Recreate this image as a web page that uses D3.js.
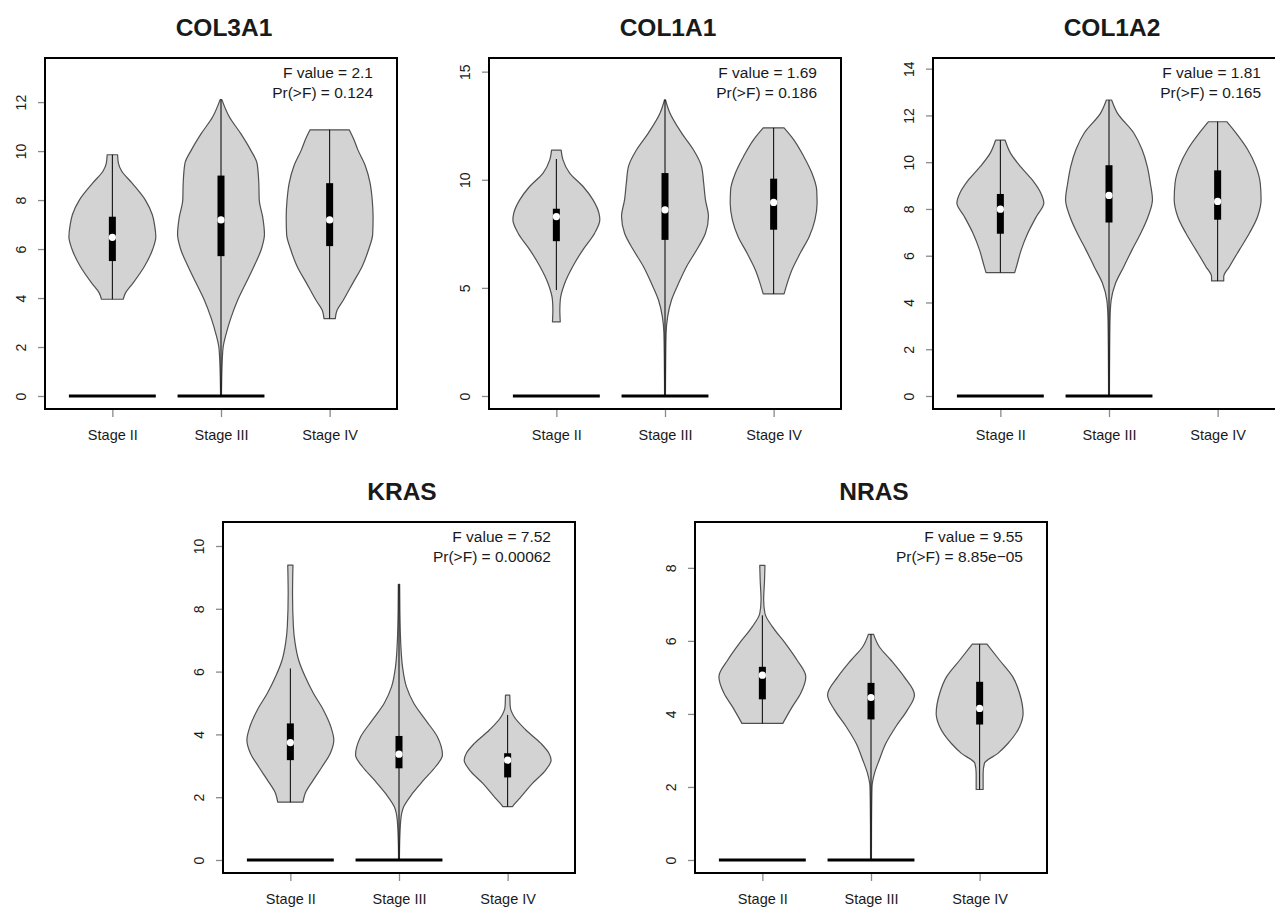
<!DOCTYPE html>
<html>
<head>
<meta charset="utf-8">
<script src="https://cdn.jsdelivr.net/npm/d3@7"></script>
<style>
	body { margin: 0; background: #fff; }
	text { font-family: "Liberation Sans", Arial, Helvetica, sans-serif; fill: #1a1a1a; }
</style>
</head>
<body>
<script>
//the data
let stages = ["Stage II", "Stage III", "Stage IV"];
let genes = ["COL3A1", "COL1A1", "COL1A2", "KRAS", "NRAS"];
let fValues = ["2.1", "1.69", "1.81", "7.52", "9.55"];
let pValues = ["0.124", "0.186", "0.165", "0.00062", "8.85e\u221205"];
let yMax = [13.27, 15.03, 13.9, 10.35, 8.9]; //upper ylim before the 4% padding
let yTicks = [
	[0, 2, 4, 6, 8, 10, 12],
	[0, 5, 10, 15],
	[0, 2, 4, 6, 8, 10, 12, 14],
	[0, 2, 4, 6, 8, 10],
	[0, 2, 4, 6, 8]
];
let zeroStages = ["Stage II", "Stage III"]; //groups that also have the flat bar at 0

//violin outlines: [value, relative half width]
let col3a1Shape = [
	[[3.95, 0.25], [4.2, 0.3], [4.6, 0.47], [5.3, 0.74], [6.0, 0.93], [6.5, 1.0], [7.0, 0.97], [7.4, 0.92], [8.0, 0.76], [8.7, 0.45], [9.2, 0.21], [9.5, 0.14], [9.85, 0.12]],
	[[0, 0.01], [1.0, 0.02], [1.5, 0.03], [2.0, 0.05], [2.55, 0.12], [3.2, 0.23], [3.9, 0.38], [4.6, 0.57], [5.3, 0.76], [6.0, 0.93], [6.6, 1.0], [7.3, 0.96], [8.0, 0.88], [8.7, 0.87], [9.5, 0.83], [10.05, 0.68], [10.7, 0.46], [11.4, 0.19], [12.1, 0.02]],
	[[3.16, 0.13], [3.5, 0.17], [3.9, 0.31], [4.6, 0.53], [5.3, 0.75], [6.0, 0.9], [6.6, 0.99], [7.3, 1.0], [8.0, 0.98], [8.7, 0.93], [9.4, 0.82], [10.05, 0.65], [10.5, 0.55], [10.87, 0.45]]
];
let col1a1Shape = [
	[[3.43, 0.09], [3.97, 0.08], [4.44, 0.09], [5.2, 0.19], [6.0, 0.38], [6.76, 0.61], [7.53, 0.88], [8.15, 1.0], [8.46, 0.98], [9.08, 0.84], [9.7, 0.61], [10.3, 0.31], [10.93, 0.15], [11.37, 0.11]],
	[[0, 0.01], [1.5, 0.015], [2.9, 0.025], [3.66, 0.06], [4.44, 0.15], [5.2, 0.31], [6.0, 0.5], [6.76, 0.73], [7.53, 0.93], [8.3, 1.0], [9.08, 0.93], [9.85, 0.89], [10.62, 0.84], [11.4, 0.65], [12.17, 0.38], [13.1, 0.11], [13.7, 0.01]],
	[[4.72, 0.24], [5.2, 0.31], [5.83, 0.42], [6.6, 0.61], [7.38, 0.82], [8.15, 0.95], [8.92, 1.0], [9.54, 0.99], [10.31, 0.88], [11.09, 0.69], [11.86, 0.46], [12.4, 0.24]]
];
let col1a2Shape = [
	[[5.28, 0.33], [5.53, 0.37], [6.25, 0.48], [6.96, 0.63], [7.68, 0.83], [8.25, 1.0], [8.68, 0.93], [9.25, 0.73], [9.82, 0.46], [10.4, 0.23], [10.94, 0.11]],
	[[0, 0.01], [2.0, 0.015], [3.39, 0.025], [4.1, 0.05], [4.82, 0.15], [5.53, 0.34], [6.25, 0.53], [6.96, 0.73], [7.68, 0.9], [8.39, 1.0], [9.11, 0.95], [9.82, 0.88], [10.54, 0.76], [11.25, 0.57], [12.11, 0.19], [12.66, 0.06]],
	[[4.92, 0.14], [5.1, 0.14], [5.53, 0.27], [6.25, 0.5], [6.96, 0.73], [7.68, 0.92], [8.39, 1.0], [9.11, 0.98], [9.82, 0.88], [10.54, 0.69], [11.25, 0.42], [11.73, 0.21]]
];
let krasShape = [
	[[1.84, 0.29], [2.12, 0.34], [2.55, 0.53], [2.97, 0.73], [3.4, 0.92], [3.82, 1.0], [4.25, 0.93], [4.78, 0.76], [5.31, 0.53], [5.84, 0.34], [6.37, 0.19], [6.9, 0.11], [7.43, 0.07], [8.49, 0.05], [9.39, 0.06]],
	[[0, 0.01], [0.53, 0.015], [1.27, 0.04], [1.7, 0.11], [2.12, 0.31], [2.55, 0.57], [2.97, 0.84], [3.34, 1.0], [3.93, 0.88], [4.46, 0.61], [4.99, 0.34], [5.52, 0.17], [6.16, 0.08], [6.9, 0.04], [7.96, 0.02], [8.78, 0.015]],
	[[1.7, 0.11], [1.8, 0.17], [2.02, 0.31], [2.44, 0.57], [2.87, 0.88], [3.18, 1.0], [3.4, 0.95], [3.72, 0.76], [4.14, 0.42], [4.56, 0.15], [4.88, 0.06], [5.25, 0.05]]
];
let nrasShape = [
	[[3.74, 0.47], [4.2, 0.69], [4.56, 0.88], [5.02, 1.0], [5.47, 0.8], [5.93, 0.53], [6.39, 0.23], [6.75, 0.06], [7.12, 0.03], [7.66, 0.05], [8.07, 0.06]],
	[[0, 0.01], [0.91, 0.012], [2.0, 0.023], [2.37, 0.08], [2.74, 0.19], [3.19, 0.34], [3.65, 0.57], [4.11, 0.84], [4.52, 1.0], [5.02, 0.76], [5.47, 0.46], [5.84, 0.19], [6.18, 0.06]],
	[[1.93, 0.08], [2.37, 0.08], [2.65, 0.11], [2.92, 0.42], [3.19, 0.65], [3.65, 0.92], [4.01, 1.0], [4.56, 0.92], [5.02, 0.76], [5.47, 0.46], [5.91, 0.17]]
];
let shapes = [col3a1Shape, col1a1Shape, col1a2Shape, krasShape, nrasShape];

//box stats per stage: [q1, median, q3, whisker low, whisker high]
let boxStats = [
	[[5.51, 6.48, 7.32, 3.95, 9.85], [5.71, 7.19, 9.0, 0, 12.1], [6.12, 7.19, 8.69, 3.16, 10.87]],
	[[7.16, 8.30, 8.66, 4.9, 10.96], [7.22, 8.61, 10.31, 0, 13.7], [7.69, 8.95, 10.05, 4.72, 12.4]],
	[[6.94, 7.99, 8.64, 5.28, 10.94], [7.42, 8.58, 9.87, 0, 12.66], [7.54, 8.32, 9.65, 4.92, 11.73]],
	[[3.18, 3.74, 4.35, 1.84, 6.1], [2.92, 3.37, 3.95, 0, 8.78], [2.63, 3.18, 3.4, 1.7, 4.62]],
	[[4.4, 5.06, 5.29, 3.74, 6.7], [3.85, 4.45, 4.85, 0, 6.18], [3.71, 4.15, 4.88, 1.93, 5.91]]
];

//where each panel's plot box sits on the page
let panelPos = [
	{ left: 45, top: 58 },
	{ left: 489, top: 58 },
	{ left: 933, top: 58 },
	{ left: 223, top: 522 },
	{ left: 695, top: 522 }
];
let boxW = 352, boxH = 351;

let svg = d3.select("body").append("svg")
	.attr("width", 1275)
	.attr("height", 908);

function drawPanel(p) {
	let g = svg.append("g")
		.attr("transform", `translate(${panelPos[p].left}, ${panelPos[p].top})`);

	//x runs 0.5..3.5 with R's 4% padding
	let x = d3.scaleLinear()
		.domain([0.38, 3.62])
		.range([0, boxW]);

	let y = d3.scaleLinear()
		.domain([-0.04 * yMax[p], 1.04 * yMax[p]])
		.range([boxH, 0]);

	let yAxis = d3.axisLeft(y)
		.tickValues(yTicks[p])
		.tickSize(7)
		.tickPadding(0)
		.tickFormat(d3.format("d"));

	let yG = g.append("g").call(yAxis);
	yG.select(".domain").remove();
	yG.selectAll(".tick line").attr("stroke", "#8a8a8a").attr("stroke-width", 1.3);
	yG.selectAll(".tick text")
		.attr("font-size", 14)
		.attr("text-anchor", "middle")
		.attr("x", 0)
		.attr("dy", 0)
		.attr("transform", "translate(-24, 0) rotate(-90)")
		.attr("dominant-baseline", "central");

	let xAxis = d3.axisBottom(x)
		.tickValues([1, 2, 3])
		.tickSize(8)
		.tickPadding(0)
		.tickFormat(d => stages[d - 1]);

	let xG = g.append("g")
		.attr("transform", `translate(0, ${boxH})`)
		.call(xAxis);
	xG.select(".domain").remove();
	xG.selectAll(".tick line").attr("stroke", "#8a8a8a").attr("stroke-width", 1.3);
	xG.selectAll(".tick text")
		.attr("font-size", 14.5)
		.attr("y", 26)
		.attr("dy", 0)
		.attr("dominant-baseline", "central");

	//violins
	let area = d3.area()
		.y(d => y(d[0]))
		.curve(d3.curveMonotoneY);

	shapes[p].forEach((shape, i) => {
		let c = i + 1;
		g.append("path")
			.datum(shape)
			.attr("fill", "#d3d3d3")
			.attr("stroke", "#505050")
			.attr("stroke-width", 1.2)
			.attr("stroke-linejoin", "round")
			.attr("d", area.x0(d => x(c - 0.4 * d[1])).x1(d => x(c + 0.4 * d[1])));
	});

	//whisker line, box and median dot
	boxStats[p].forEach((b, i) => {
		let cx = x(i + 1);
		g.append("line")
			.attr("x1", cx).attr("x2", cx)
			.attr("y1", y(b[3])).attr("y2", y(b[4]))
			.attr("stroke", "#000")
			.attr("stroke-width", 1);
		g.append("rect")
			.attr("x", cx - 3.5)
			.attr("width", 7)
			.attr("y", y(b[2]))
			.attr("height", y(b[0]) - y(b[2]))
			.attr("fill", "#000");
		g.append("circle")
			.attr("cx", cx)
			.attr("cy", y(b[1]))
			.attr("r", 3.6)
			.attr("fill", "#fff");
	});

	//flat bars at zero
	zeroStages.forEach(s => {
		let c = stages.indexOf(s) + 1;
		g.append("line")
			.attr("x1", x(c - 0.4)).attr("x2", x(c + 0.4))
			.attr("y1", y(0)).attr("y2", y(0))
			.attr("stroke", "#000")
			.attr("stroke-width", 3);
	});

	//plot frame
	g.append("rect")
		.attr("width", boxW)
		.attr("height", boxH)
		.attr("fill", "none")
		.attr("stroke", "#000")
		.attr("stroke-width", 2);

	//anova text
	g.append("text")
		.attr("x", boxW - 24)
		.attr("y", 14)
		.attr("text-anchor", "end")
		.attr("dominant-baseline", "central")
		.attr("font-size", 15.5)
		.text("F value = " + fValues[p]);
	g.append("text")
		.attr("x", boxW - 24)
		.attr("y", 34)
		.attr("text-anchor", "end")
		.attr("dominant-baseline", "central")
		.attr("font-size", 15.5)
		.text("Pr(>F) = " + pValues[p]);

	//title
	g.append("text")
		.attr("x", boxW / 2 + 3)
		.attr("y", -31)
		.attr("text-anchor", "middle")
		.attr("dominant-baseline", "central")
		.attr("font-size", 24.5)
		.attr("font-weight", "bold")
		.attr("fill", "#000")
		.text(genes[p]);
}

genes.forEach((gene, p) => drawPanel(p));
</script>
</body>
</html>
